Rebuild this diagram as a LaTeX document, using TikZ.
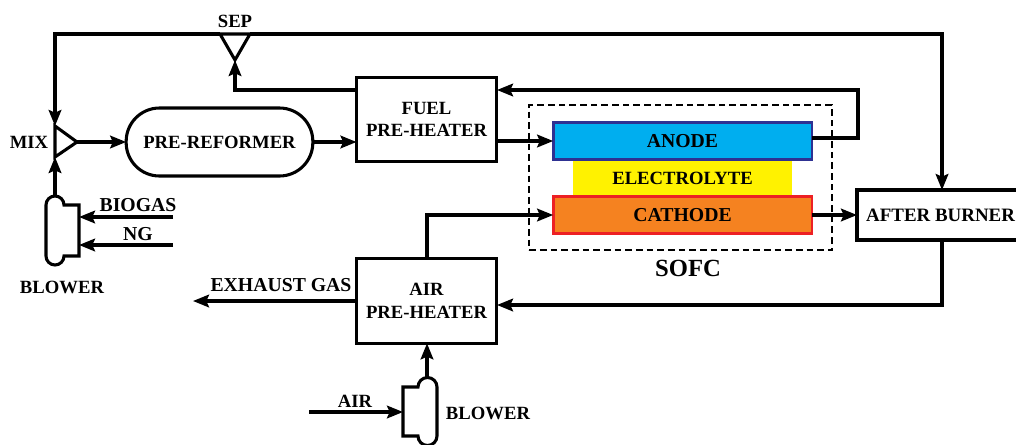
\documentclass[tikz,border=0pt]{standalone}
\usepackage{fontspec}
\setmainfont{Liberation Serif}
\usetikzlibrary{arrows.meta}
\definecolor{anodeblue}{HTML}{00AEEF}
\definecolor{anodeedge}{HTML}{2E3192}
\definecolor{elyellow}{HTML}{FFF200}
\definecolor{cathorange}{HTML}{F58220}
\definecolor{cathedge}{HTML}{ED2024}
\tikzset{
  x=0.75pt,y=-0.75pt,
  every node/.style={font=\bfseries\fontsize{14pt}{17pt}\selectfont,inner sep=0pt,outer sep=0pt,align=center,text=black},
  big/.style={font=\bfseries\fontsize{14.8pt}{17pt}\selectfont},
  ln/.style={line width=2.3pt,line join=miter,draw=black},
  flow/.style={ln,-{Stealth[length=12pt,width=9.5pt,inset=2pt]}},
  plain/.style={ln},
  blockbox/.style={draw=black,line width=2.2pt,fill=white,minimum width=105pt,minimum height=63.5pt},
  reformer/.style={draw=black,line width=2.3pt,rounded corners=25pt,minimum width=140pt,minimum height=51pt},
  burner/.style={draw=black,line width=2.3pt,minimum width=122pt,minimum height=37.5pt},
  cell/.style={minimum width=194pt,minimum height=28pt,line width=2pt},
}
\begin{document}
\begin{tikzpicture}
\useasboundingbox (0,0) rectangle (1016,444);
% dashed SOFC enclosure
\node[draw=black,dash pattern=on 5pt off 3pt,line width=1.1pt,minimum width=227pt,minimum height=109pt] (sofc) at (680.5,177.5) {};
\node[font=\bfseries\fontsize{18.5pt}{20pt}\selectfont] (sofclab) at (688,268) {SOFC};
% cells
\node[cell,fill=elyellow,minimum width=164pt,minimum height=27pt,line width=0pt] (ely) at (682.5,178) {ELECTROLYTE};
\node[cell,fill=anodeblue,draw=anodeedge,big] (anode) at (682.5,141) {ANODE};
\node[cell,fill=cathorange,draw=cathedge,big] (cath) at (682.5,215) {CATHODE};
% blocks
\node[blockbox] (fuel) at (426.5,119.5) {FUEL\\PRE-HEATER};
\node[blockbox] (air) at (426.5,301) {AIR\\PRE-HEATER};
\node[reformer] (pre) at (219.5,142) {PRE-REFORMER};
\node[burner,anchor=west] (ab) at (857,215) {};
\node[anchor=east,font=\bfseries\fontsize{14.2pt}{17pt}\selectfont] (ablab) at (1015,215) {AFTER BURNER};
% labels
\node (seplab) at (235,21) {SEP};
\node (mixlab) at (29,142) {MIX};
\node[big] (biolab) at (138,205) {BIOGAS};
\node[big] (nglab) at (138,234) {NG};
\node (bl1lab) at (62,287) {BLOWER};
\node[big] (exlab) at (281,285) {EXHAUST GAS};
\node (airlab) at (355,401) {AIR};
\node (bl2lab) at (488,413) {BLOWER};
% mixer and separator
\coordinate (mixA) at (55,126);
\coordinate (mixB) at (77,142);
\coordinate (mixC) at (55,157);
\draw[plain] (mixA) -- (mixB) -- (mixC) -- cycle;
\coordinate (sepA) at (220,34);
\coordinate (sepB) at (250,34);
\coordinate (sepC) at (235,60);
\draw[plain] (sepA) -- (sepC) -- (sepB) -- cycle;
% blowers
\draw[plain] (79,205) -- (64,205) arc[start angle=0,end angle=-180,radius=9] -- (46,256) arc[start angle=180,end angle=0,radius=9] -- (79,256) -- cycle;
\draw[plain] (403,387) -- (418,387) arc[start angle=180,end angle=360,radius=9.5] -- (437,436) arc[start angle=0,end angle=180,radius=9.5] -- (403,436) -- cycle;
\coordinate (bl1top) at (55,197);
\coordinate (bl1a) at (79,217);
\coordinate (bl1b) at (79,245);
\coordinate (bl2top) at (427,378);
\coordinate (bl2in) at (403,412);
% bends and free ends
\coordinate (bioin) at (173,217);
\coordinate (ngin) at (173,245);
\coordinate (airin) at (309,412);
\coordinate (exout) at (193,301);
\coordinate (topleft) at (55,34);
\coordinate (topright) at (942,34);
\coordinate (sepbend) at (235,90);
\coordinate (anodeout) at (812,138);
\coordinate (anodecorner) at (858,138);
\coordinate (anodeup) at (858,90);
\coordinate (fuelin) at (497,90);
\coordinate (airout) at (427,258);
\coordinate (airup) at (427,215);
\coordinate (abdown) at (942,240);
\coordinate (abcorner) at (942,305);
\coordinate (airin2) at (497,305);
% connectors
\draw[flow] (sepA) -- (topleft) -- (mixA);
\draw[flow] (sepB) -- (topright) -- (ab.north -| topright);
\draw[flow] (fuel.west |- sepbend) -- (sepbend) -- (sepC);
\draw[flow] (bl1top) -- (mixC);
\draw[flow] (mixB) -- (pre.west);
\draw[flow] (pre.east) -- (fuel.west |- pre.east);
\draw[flow] (fuel.east |- anode.west) -- (anode.west);
\draw[flow] (anodeout) -- (anodecorner) -- (anodeup) -- (fuelin);
\draw[flow] (airout) -- (airup) -- (cath.west);
\draw[flow] (cath.east) -- (ab.west);
\draw[flow] (abdown) -- (abcorner) -- (airin2);
\draw[flow] (air.west) -- (exout);
\draw[flow] (bioin) -- (bl1a);
\draw[flow] (ngin) -- (bl1b);
\draw[flow] (airin) -- (bl2in);
\draw[flow] (bl2top) -- (air.south -| bl2top);
\end{tikzpicture}
\end{document}
